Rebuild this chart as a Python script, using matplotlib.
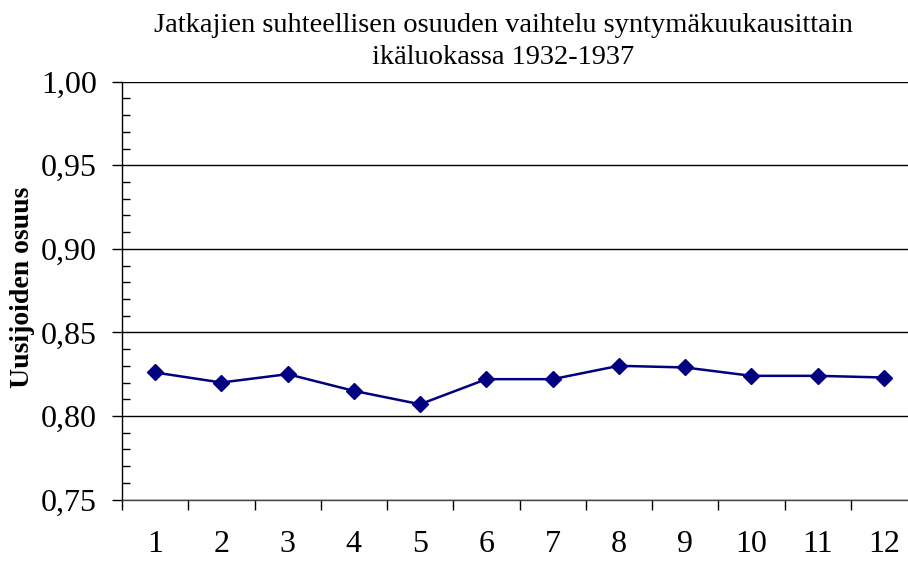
import matplotlib.pyplot as plt
from matplotlib.ticker import MultipleLocator, FixedLocator, FuncFormatter

# kuukaudet ja uusijoiden osuus
kuukaudet = ['1', '2', '3', '4', '5', '6', '7', '8', '9', '10', '11', '12']
osuus = [0.826, 0.820, 0.825, 0.815, 0.807, 0.822, 0.822, 0.830, 0.829, 0.824, 0.824, 0.823]
y_ticks = [0.75, 0.80, 0.85, 0.90, 0.95, 1.00]

plt.rcParams['font.family'] = ['Liberation Serif', 'DejaVu Serif']

fig = plt.figure(figsize=(9.08, 5.64), dpi=100)
ax = fig.add_axes([122 / 908, 1 - 499.5 / 564, (917 - 122) / 908, (499.5 - 81.7) / 564])

x = list(range(len(kuukaudet)))
ax.plot(x, osuus, color='#000080', linewidth=1.8, marker='D', markersize=8.5,
        markeredgecolor='#000080', markerfacecolor='#000080', clip_on=False, zorder=3)

ax.set_xlim(-0.5, len(kuukaudet) - 0.5)
ax.set_ylim(0.75, 1.00)

# Excel-tyylinen kategoria-akseli: tikit kategorioiden välissä
ax.xaxis.set_major_locator(FixedLocator([i - 0.5 for i in range(len(kuukaudet))]))
ax.set_xticklabels([])
ax.set_xticks(x, minor=True)
ax.set_xticklabels(kuukaudet, minor=True)
ax.tick_params(axis='x', which='major', direction='out', length=7, width=1, color='black')
ax.tick_params(axis='x', which='minor', length=0, pad=22, labelsize=23)

ax.set_yticks(y_ticks)
ax.yaxis.set_major_formatter(FuncFormatter(lambda v, p: f'{v:.2f}'.replace('.', ',')))
ax.yaxis.set_minor_locator(MultipleLocator(0.01))
ax.tick_params(axis='y', which='major', direction='out', length=7, width=1, pad=11, labelsize=23)
ax.tick_params(axis='y', which='minor', direction='in', length=6, width=1)

ax.grid(axis='y', which='major', color='black', linewidth=1)
ax.set_axisbelow(True)

for s in ['top', 'right']:
    ax.spines[s].set_visible(False)
ax.spines['left'].set_linewidth(1)
ax.spines['bottom'].set_linewidth(1)
ax.spines['bottom'].set_color('#444444')

fig.text(22.5 / 908, 1 - 287 / 564, 'Uusijoiden osuus', rotation=90, ha='center', va='center',
         fontsize=20, fontweight='bold')
fig.text(0.554, 0.977, 'Jatkajien suhteellisen osuuden vaihtelu syntymäkuukausittain\nikäluokassa 1932-1937',
         ha='center', va='top', fontsize=20.5, linespacing=1.38)

fig.savefig('out.png', dpi=100)
